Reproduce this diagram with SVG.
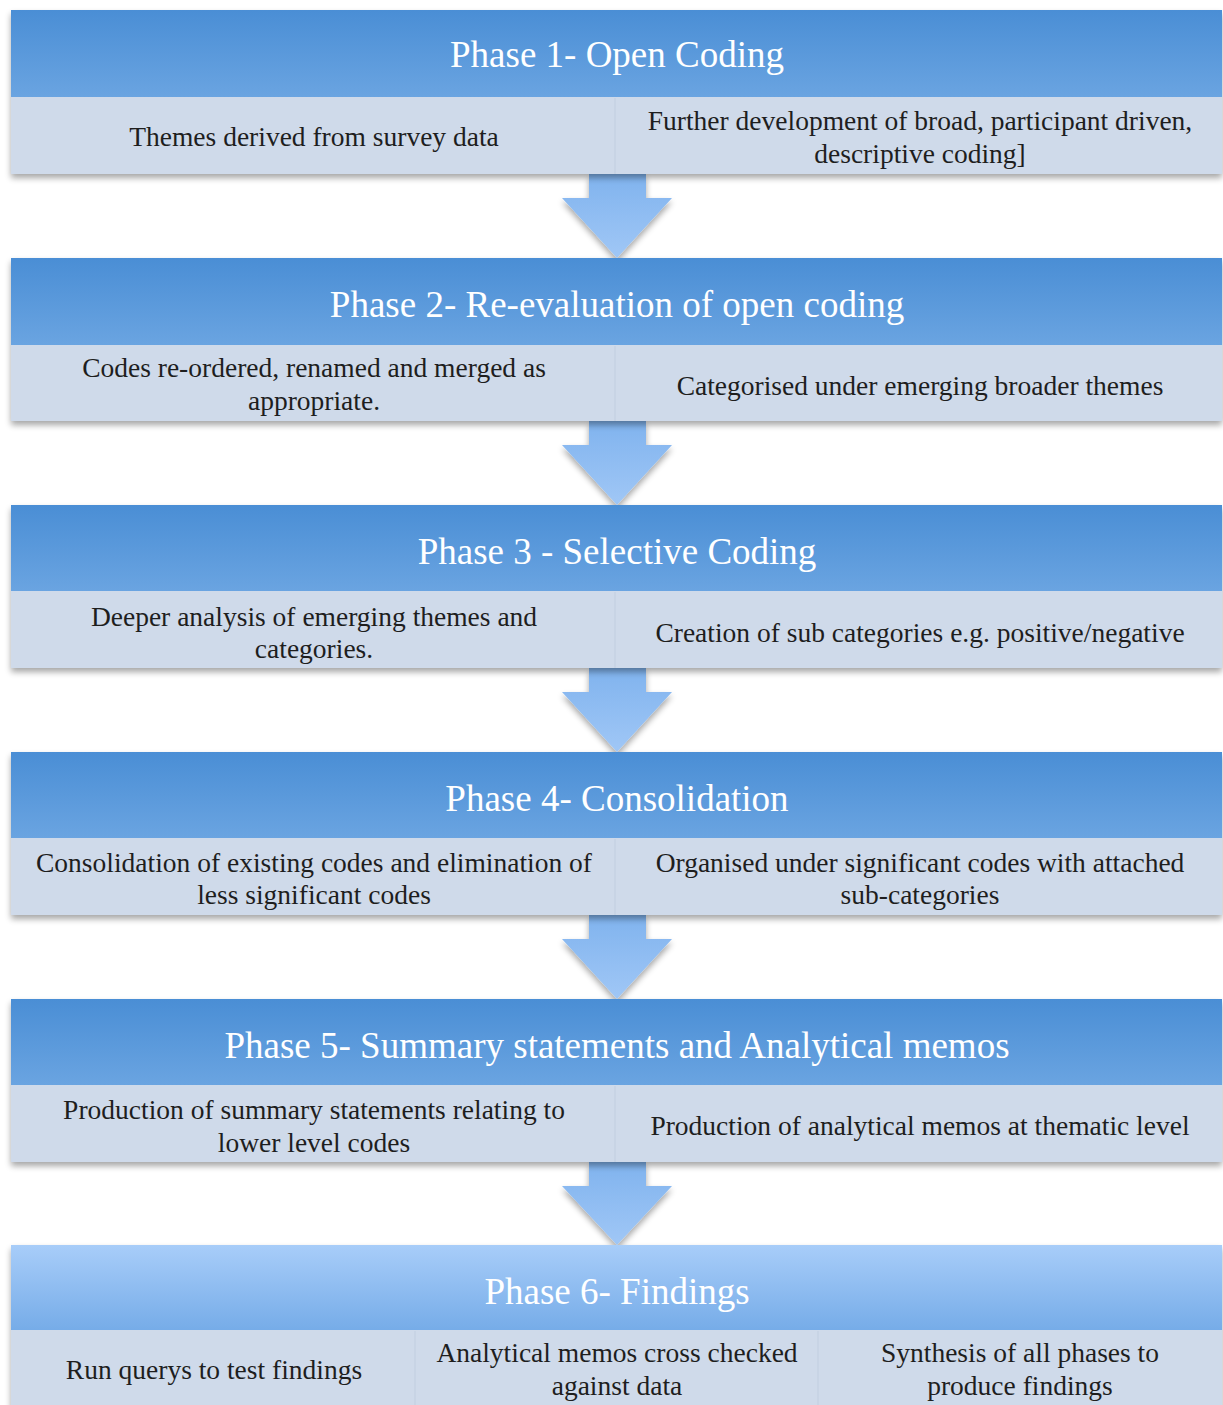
<svg xmlns="http://www.w3.org/2000/svg" width="1223" height="1405" viewBox="0 0 1223 1405">
<style>
.hdr{fill:url(#hg)}
.hdr6{fill:url(#hg6)}
.body{fill:#cfdaea}
.ht{font-family:"Liberation Serif","DejaVu Serif",serif;font-size:37px;fill:#ffffff;text-anchor:middle}
.bt{font-family:"Liberation Serif","DejaVu Serif",serif;font-size:27.5px;fill:#1e1e1e;text-anchor:middle}
.div{stroke:#c6d2e3;stroke-width:1.5}
.arr{fill:url(#ag)}
</style>
<defs>
<linearGradient id="hg" x1="0" y1="0" x2="0" y2="1">
<stop offset="0" stop-color="#4a8ed5"/>
<stop offset="1" stop-color="#6aa4e1"/>
</linearGradient>
<linearGradient id="hg6" x1="0" y1="0" x2="0" y2="1">
<stop offset="0" stop-color="#a8cdf9"/>
<stop offset="1" stop-color="#76ace8"/>
</linearGradient>
<linearGradient id="ag" x1="0" y1="0" x2="0" y2="1">
<stop offset="0" stop-color="#80b3ee"/>
<stop offset="1" stop-color="#a0c7f6"/>
</linearGradient>
<filter id="sh" x="-5%" y="-10%" width="110%" height="125%">
<feGaussianBlur in="SourceAlpha" stdDeviation="3"/>
<feOffset dx="0" dy="4" result="b"/>
<feComponentTransfer><feFuncA type="linear" slope="0.35"/></feComponentTransfer>
<feMerge><feMergeNode/><feMergeNode in="SourceGraphic"/></feMerge>
</filter>
</defs>
<rect width="1223" height="1405" fill="#ffffff"/>
<g id="connectors">
<path class="arr" filter="url(#sh)" d="M589 174 H646 V198 H672 L617 258 L562 198 H589 Z"/>
<path class="arr" filter="url(#sh)" d="M589 421 H646 V445 H672 L617 505 L562 445 H589 Z"/>
<path class="arr" filter="url(#sh)" d="M589 668 H646 V692 H672 L617 752 L562 692 H589 Z"/>
<path class="arr" filter="url(#sh)" d="M589 915 H646 V939 H672 L617 999 L562 939 H589 Z"/>
<path class="arr" filter="url(#sh)" d="M589 1162 H646 V1186 H672 L617 1245 L562 1186 H589 Z"/>
</g>
<g id="phase1">
<rect class="body" x="11" y="10" width="1211" height="164" filter="url(#sh)"/>
<rect class="hdr" x="11" y="10" width="1211" height="87"/>
<text class="ht" x="617" y="67">Phase 1- Open Coding</text>
<line class="div" x1="615" y1="98" x2="615" y2="174"/>
<text class="bt" x="314" y="146">Themes derived from survey data</text>
<text class="bt" x="920" y="130">Further development of broad, participant driven,</text>
<text class="bt" x="920" y="163">descriptive coding]</text>
</g>
<g id="phase2">
<rect class="body" x="11" y="258" width="1211" height="163" filter="url(#sh)"/>
<rect class="hdr" x="11" y="258" width="1211" height="87"/>
<text class="ht" x="617" y="317">Phase 2- Re-evaluation of open coding</text>
<line class="div" x1="615" y1="346" x2="615" y2="421"/>
<text class="bt" x="314" y="377">Codes re-ordered, renamed and merged as</text>
<text class="bt" x="314" y="410">appropriate.</text>
<text class="bt" x="920" y="395">Categorised under emerging broader themes</text>
</g>
<g id="phase3">
<rect class="body" x="11" y="505" width="1211" height="163" filter="url(#sh)"/>
<rect class="hdr" x="11" y="505" width="1211" height="86"/>
<text class="ht" x="617" y="564">Phase 3 - Selective Coding</text>
<line class="div" x1="615" y1="592" x2="615" y2="668"/>
<text class="bt" x="314" y="626">Deeper analysis of emerging themes and</text>
<text class="bt" x="314" y="658">categories.</text>
<text class="bt" x="920" y="642">Creation of sub categories e.g. positive/negative</text>
</g>
<g id="phase4">
<rect class="body" x="11" y="752" width="1211" height="163" filter="url(#sh)"/>
<rect class="hdr" x="11" y="752" width="1211" height="86"/>
<text class="ht" x="617" y="811">Phase 4- Consolidation</text>
<line class="div" x1="615" y1="839" x2="615" y2="915"/>
<text class="bt" x="314" y="872">Consolidation of existing codes and elimination of</text>
<text class="bt" x="314" y="904">less significant codes</text>
<text class="bt" x="920" y="872">Organised under significant codes with attached</text>
<text class="bt" x="920" y="904">sub-categories</text>
</g>
<g id="phase5">
<rect class="body" x="11" y="999" width="1211" height="163" filter="url(#sh)"/>
<rect class="hdr" x="11" y="999" width="1211" height="86"/>
<text class="ht" x="617" y="1058">Phase 5- Summary statements and Analytical memos</text>
<line class="div" x1="615" y1="1086" x2="615" y2="1162"/>
<text class="bt" x="314" y="1119">Production of summary statements relating to</text>
<text class="bt" x="314" y="1152">lower level codes</text>
<text class="bt" x="920" y="1135">Production of analytical memos at thematic level</text>
</g>
<g id="phase6">
<rect class="body" x="11" y="1245" width="1211" height="165" filter="url(#sh)"/>
<rect class="hdr6" x="11" y="1245" width="1211" height="85"/>
<text class="ht" x="617" y="1304">Phase 6- Findings</text>
<line class="div" x1="415" y1="1331" x2="415" y2="1405"/>
<line class="div" x1="818" y1="1331" x2="818" y2="1405"/>
<text class="bt" x="214" y="1379">Run querys to test findings</text>
<text class="bt" x="617" y="1362">Analytical memos cross checked</text>
<text class="bt" x="617" y="1395">against data</text>
<text class="bt" x="1020" y="1362">Synthesis of all phases to</text>
<text class="bt" x="1020" y="1395">produce findings</text>
</g>
</svg>
